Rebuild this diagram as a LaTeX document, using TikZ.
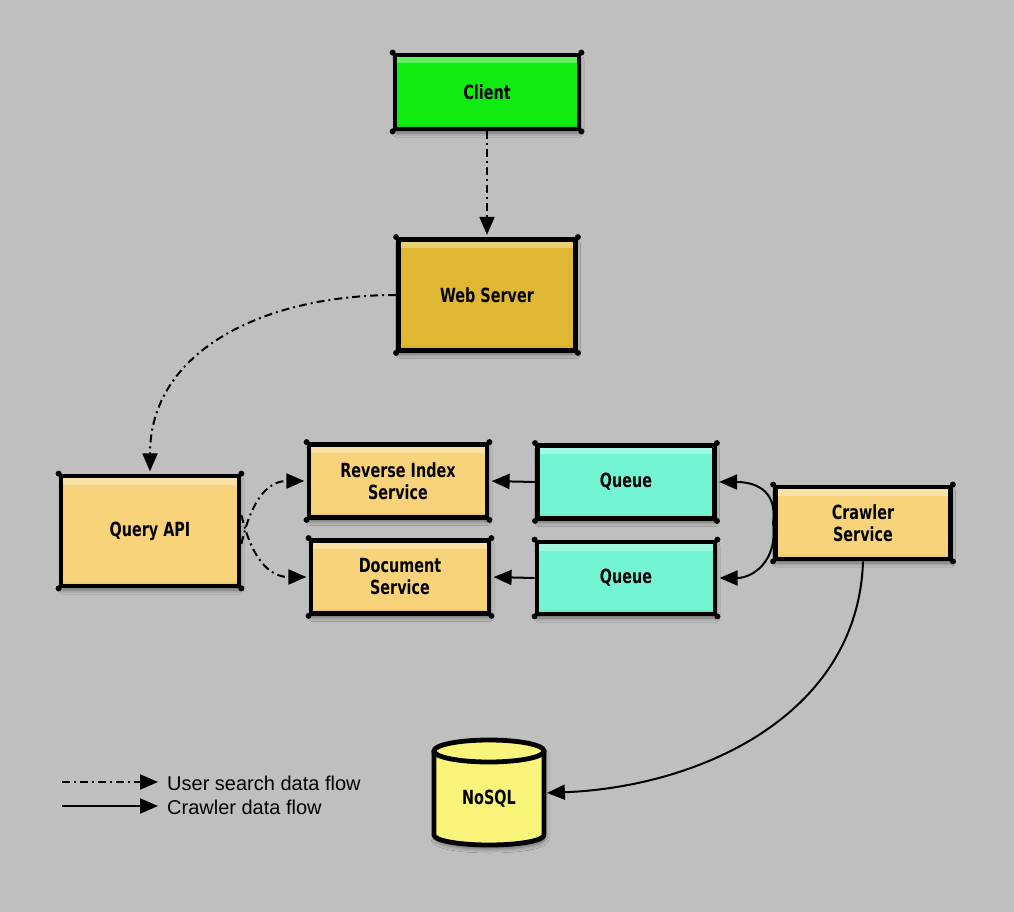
\documentclass[tikz,border=0pt]{standalone}
\usepackage{fontspec}
\setmainfont{Liberation Sans}
\newfontfamily\handfont{DejaVu Sans Condensed Bold}[FakeStretch=0.82]
\usetikzlibrary{arrows.meta,shadows.blur,calc}

\definecolor{bggray}{RGB}{191,191,191}
\definecolor{clientgreen}{RGB}{16,236,16}
\definecolor{webgold}{RGB}{224,183,51}
\definecolor{svcorange}{RGB}{248,211,122}
\definecolor{queuecyan}{RGB}{115,245,211}
\definecolor{dbyellow}{RGB}{249,245,122}

\tikzset{
  sbox/.style={draw=black, line width=4.8pt, line join=round, inner sep=0pt,
    align=center, font=\handfont\fontsize{19.5}{22}\selectfont,
    fill=#1,
    blur shadow={shadow xshift=1pt, shadow yshift=-4pt, shadow blur radius=4pt, shadow opacity=45},
    path picture={
      \shade[top color=#1!65!white, bottom color=#1]
        (path picture bounding box.north west) rectangle ([yshift=-8pt]path picture bounding box.north east);
      \shade[top color=#1, bottom color=#1!88!black]
        ([yshift=6pt]path picture bounding box.south west) rectangle (path picture bounding box.south east);
    }},
  flowtip/.style={-{Triangle[length=18pt,width=15pt,fill=black]}, shorten >=2.2pt},
  userflow/.style={line width=2pt, dash pattern=on 8pt off 4pt on 2pt off 4pt, flowtip},
  crawlflow/.style={line width=2pt, flowtip},
  cornerdot/.style={fill=black},
}

\begin{document}
\begin{tikzpicture}[x=1pt,y=-1pt]
  % canvas
  \fill[bggray] (0,0) rectangle (1014,912);
  \useasboundingbox (0,0) rectangle (1014,912);

  % boxes
  \node[sbox=clientgreen, minimum width=184pt, minimum height=74pt] (client) at (487,92) {Client};
  \node[sbox=webgold, minimum width=177pt, minimum height=111pt] (web) at (487,295) {Web Server};
  \node[sbox=svcorange, minimum width=178pt, minimum height=110pt] (qapi) at (150,531) {Query API};
  \node[sbox=svcorange, minimum width=178pt, minimum height=73pt] (rindex) at (398,481) {Reverse Index\\Service};
  \node[sbox=svcorange, minimum width=178pt, minimum height=73pt] (docsvc) at (400,577) {Document\\Service};
  \node[sbox=queuecyan, minimum width=177pt, minimum height=73pt] (queue1) at (626,482) {Queue};
  \node[sbox=queuecyan, minimum width=178pt, minimum height=72pt] (queue2) at (626,578) {Queue};
  \node[sbox=svcorange, minimum width=175pt, minimum height=72pt] (crawler) at (863,523) {Crawler\\Service};

  % rounded blobs at the box corners
  \foreach \n in {client,web,qapi,rindex,docsvc,queue1,queue2,crawler}
    \foreach \a in {north west,north east,south west,south east}
      \fill[cornerdot] (\n.\a) circle (3pt);

  % NoSQL cylinder
  \fill[dbyellow, blur shadow={shadow xshift=1pt, shadow yshift=-4pt, shadow blur radius=4pt, shadow opacity=45}]
    (434,751) -- (434,835) arc (180:0:55 and 10) -- (544,751) arc (0:-180:55 and 11) -- cycle;
  \draw[line width=4.8pt, line join=round]
    (434,751) -- (434,835) arc (180:0:55 and 10) -- (544,751);
  \draw[line width=4.8pt] (489,751) ellipse (55 and 11);
  \node[minimum width=111pt, minimum height=95pt, inner sep=0pt,
        font=\handfont\fontsize{19.5}{22}\selectfont] (nosql) at (489,799) {NoSQL};

  % user search flow
  \draw[userflow] (client.south) -- (web.north);
  \draw[userflow] (web.west) .. controls (265,295) and (150,350) .. (qapi.north);
  \draw[userflow] ($(qapi.east)+(0,13)$) .. controls (254,488) and (275,481) .. (rindex.west);
  \draw[userflow] ($(qapi.east)+(0,-16)$) .. controls (254,568) and (275,577) .. (docsvc.west);

  % crawler flow
  \draw[crawlflow] (queue1.west) -- (rindex.east);
  \draw[crawlflow] (queue2.west) -- (docsvc.east);
  \draw[crawlflow] (crawler.west) .. controls (778,488) and (752,482) .. (queue1.east);
  \draw[crawlflow] (crawler.west) .. controls (778,562) and (752,578) .. (queue2.east);
  \draw[crawlflow] (crawler.south) .. controls (858,715) and (700,787) .. ([yshift=6pt]nosql.east);

  % legend
  \coordinate (leg1a) at (62,782);
  \coordinate (leg1b) at (158,782);
  \coordinate (leg2a) at (62,806);
  \coordinate (leg2b) at (158,806);
  \draw[userflow, shorten >=0pt] (leg1a) -- (leg1b);
  \draw[crawlflow, shorten >=0pt] (leg2a) -- (leg2b);
  \node[anchor=west, inner sep=0pt, font=\fontsize{20}{21}\selectfont] (leg1t) at (167,783) {User search data flow};
  \node[anchor=west, inner sep=0pt, font=\fontsize{20}{21}\selectfont] (leg2t) at (167,807) {Crawler data flow};
\end{tikzpicture}
\end{document}
